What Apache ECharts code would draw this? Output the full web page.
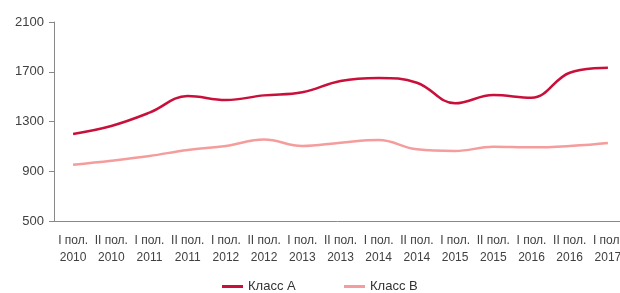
<!DOCTYPE html>
<html>
<head>
<meta charset="utf-8">
<script src="https://cdn.jsdelivr.net/npm/echarts@6/dist/echarts.min.js"></script>
<style>
  html, body { margin: 0; padding: 0; background: #fff; }
  #chart { width: 620px; height: 293px; }
</style>
</head>
<body>
<div id="chart"></div>
<script>
const periods = ['I пол.\n2010', 'II пол.\n2010', 'I пол.\n2011', 'II пол.\n2011', 'I пол.\n2012',
  'II пол.\n2012', 'I пол.\n2013', 'II пол.\n2013', 'I пол.\n2014', 'II пол.\n2014',
  'I пол.\n2015', 'II пол.\n2015', 'I пол.\n2016', 'II пол.\n2016', 'I пол.\n2017']
const classA = [1200, 1264, 1371, 1505, 1473, 1510, 1535, 1626, 1650, 1612, 1446, 1513, 1491, 1692, 1733]
const classB = [953, 985, 1023, 1071, 1103, 1155, 1103, 1130, 1151, 1076, 1063, 1097, 1092, 1103, 1127]

const colorA = '#c8103a'
const colorB = '#f59c9c'

const chart = echarts.init(document.getElementById('chart'))

const legendBase = {
  top: 280,
  padding: 0,
  itemWidth: 21,
  itemHeight: 3,
  icon: 'rect',
  textStyle: { fontSize: 13, color: '#333' }
}

chart.setOption({
  animation: false,
  textStyle: { fontFamily: 'Liberation Sans, Arial, sans-serif' },
  grid: {
    left: 54,
    top: 22,
    width: 573,
    bottom: 72,
    outerBoundsMode: 'none'
  },
  legend: [
    { ...legendBase, left: 222, data: ['Класс А'] },
    { ...legendBase, left: 344, data: ['Класс В'] }
  ],
  xAxis: {
    type: 'category',
    data: periods,
    boundaryGap: true,
    axisLine: { lineStyle: { color: '#888' } },
    axisTick: { length: 5, lineStyle: { color: '#888' } },
    axisLabel: {
      interval: 0,
      margin: 11,
      fontSize: 12,
      lineHeight: 17,
      color: '#404040',
      hideOverlap: false
    }
  },
  yAxis: {
    type: 'value',
    min: 500,
    max: 2100,
    interval: 400,
    splitLine: { show: false },
    axisLine: { show: true, lineStyle: { color: '#888' } },
    axisTick: { show: true, length: 5, lineStyle: { color: '#888' } },
    axisLabel: { fontSize: 13, color: '#404040', margin: 10, formatter: v => String(v) }
  },
  series: [
    {
      name: 'Класс А',
      type: 'line',
      data: classA,
      smooth: 0.4,
      showSymbol: false,
      lineStyle: { width: 2.5, color: colorA },
      itemStyle: { color: colorA }
    },
    {
      name: 'Класс В',
      type: 'line',
      data: classB,
      smooth: 0.4,
      showSymbol: false,
      lineStyle: { width: 2.5, color: colorB },
      itemStyle: { color: colorB }
    }
  ]
})
</script>
</body>
</html>
